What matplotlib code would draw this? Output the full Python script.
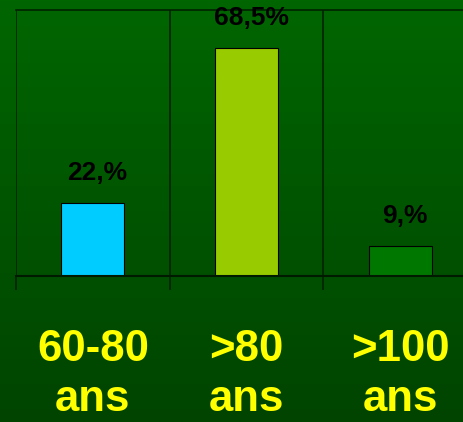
import numpy as np
import matplotlib.pyplot as plt
from matplotlib.transforms import blended_transform_factory

categories = ['60-80\nans', '>80\nans', '>100\nans']
values = [22.0, 68.5, 9.0]
value_labels = ['22,%', '68,5%', '9,%']
bar_colors = ['#00CCFF', '#99CC00', '#007800']

plt.rcParams['font.family'] = ['Liberation Sans', 'DejaVu Sans']

fig = plt.figure(figsize=(4.64, 4.22), dpi=100)

# green gradient background
bg = fig.add_axes([0, 0, 1, 1], zorder=0)
grad = np.linspace(0, 1, 256).reshape(-1, 1)
top = np.array([0, 0x66, 0]) / 255
bottom = np.array([0, 0x44, 0]) / 255
img = top + (bottom - top) * grad[:, :, None]
bg.imshow(img, aspect='auto', extent=[0, 1, 0, 1])
bg.axis('off')

ax = fig.add_axes([16 / 464, 146 / 422, 461 / 464, 266 / 422], zorder=1)
ax.patch.set_alpha(0)
x = np.arange(len(categories))
ax.bar(x, values, width=0.41, color=bar_colors, edgecolor='black', linewidth=0.8)
ax.set_xlim(-0.5, len(categories) - 0.5)
ax.set_ylim(0, 80)

for i, (v, s) in enumerate(zip(values, value_labels)):
    ax.annotate(s, (i + 0.03, v), xytext=(0, 18), textcoords='offset pixels',
                ha='center', va='bottom', fontsize=19, fontweight='bold', color='black')

# category separators
for b in np.arange(-0.5, len(categories), 1.0):
    ax.axvline(b, color='#002200', lw=1.2, zorder=0.5)
ax.set_xticks(np.arange(-0.5, len(categories), 1.0))
ax.set_xticklabels([])
ax.tick_params(axis='x', length=10, width=1.2, color='#002200', direction='out')
ax.set_yticks([])
for side in ['left', 'right']:
    ax.spines[side].set_visible(False)
ax.spines['top'].set_color('#002200')
ax.spines['bottom'].set_color('#001a00')
ax.spines['top'].set_linewidth(1.2)
ax.spines['bottom'].set_linewidth(1.5)

trans = blended_transform_factory(ax.transData, ax.transAxes)
for i, c in enumerate(categories):
    ax.text(i, -0.20, c, transform=trans, ha='center', va='top', fontsize=31.5,
            fontweight='bold', color='#FFFF00', linespacing=1.27)

fig.savefig('out.png', dpi=100)
